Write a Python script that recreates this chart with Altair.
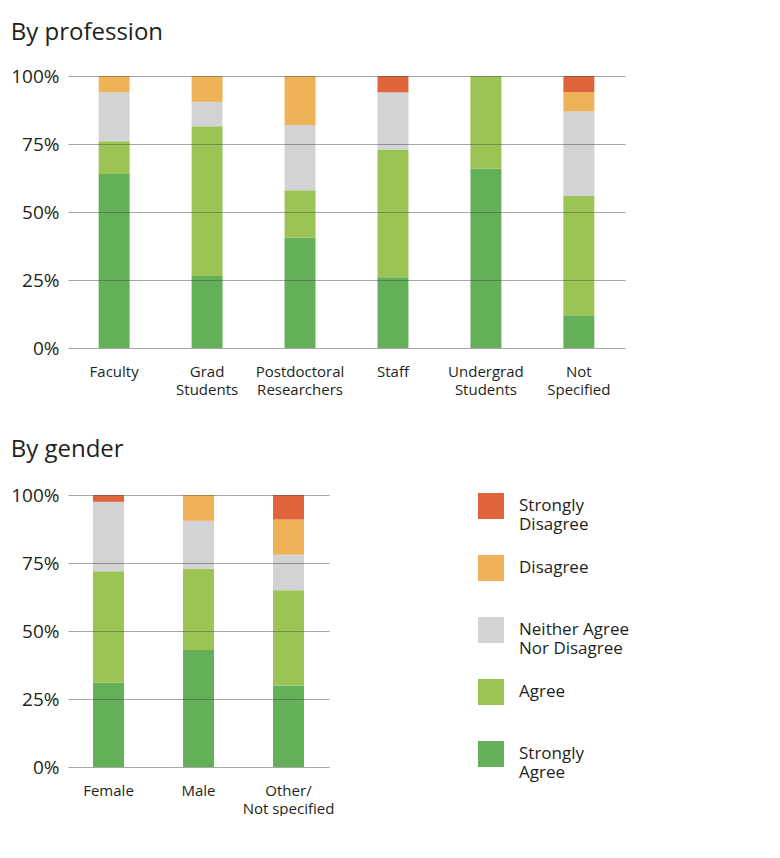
import altair as alt
import pandas as pd

# ---- data (percent of respondents) ----
responses = ["Strongly Agree", "Agree", "Neither Agree Nor Disagree", "Disagree", "Strongly Disagree"]
legend_labels = ["Strongly\nAgree", "Agree", "Neither Agree\nNor Disagree", "Disagree", "Strongly\nDisagree"]
colors = ["#63b058", "#9cc455", "#d1d3d4", "#f0b256", "#e0643a"]

professions = ["Faculty", "Grad\nStudents", "Postdoctoral\nResearchers", "Staff",
               "Undergrad\nStudents", "Not\nSpecified"]
prof_strongly_agree = [64, 26.5, 40.5, 26, 66, 12]
prof_agree = [12, 55, 17.5, 47, 34, 44]
prof_neither = [18, 9, 24, 21, 0, 31]
prof_disagree = [6, 9.5, 18, 0, 0, 7]
prof_strongly_disagree = [0, 0, 0, 6, 0, 6]

genders = ["Female", "Male", "Other/\nNot specified"]
gen_strongly_agree = [31, 43, 30]
gen_agree = [41, 30, 35]
gen_neither = [25.5, 17.5, 13]
gen_disagree = [0, 9.5, 13]
gen_strongly_disagree = [2.5, 0, 9]

y_ticks = [0, 0.25, 0.5, 0.75, 1]

FONT = "Open Sans"
TXT = "#231f20"


def to_long(cats, series):
    rows = []
    for rank, (resp, vals) in enumerate(zip(responses, series)):
        for c, v in zip(cats, vals):
            rows.append({"category": c, "response": resp, "rank": rank, "value": v})
    return pd.DataFrame(rows)


prof_df = to_long(professions, [prof_strongly_agree, prof_agree, prof_neither,
                                prof_disagree, prof_strongly_disagree])
gen_df = to_long(genders, [gen_strongly_agree, gen_agree, gen_neither,
                           gen_disagree, gen_strongly_disagree])

color_scale = alt.Scale(domain=responses, range=colors)


def stacked(df, cats, width, pi, po, title=None):
    ch = alt.Chart(df).mark_bar().encode(
        x=alt.X("category:N", sort=cats, title=None,
                scale=alt.Scale(paddingInner=pi, paddingOuter=po),
                axis=alt.Axis(labelExpr="split(datum.label, '\\n')", labelAngle=0,
                              labelFontSize=15, labelLineHeight=18, labelPadding=16,
                              labelFont=FONT, labelColor=TXT, domain=False, ticks=False,
                              grid=False, labelBaseline="top")),
        y=alt.Y("value:Q", stack="normalize", title=None,
                scale=alt.Scale(domain=[0, 1], nice=False),
                axis=alt.Axis(values=y_ticks, format=".0%", labelFontSize=19,
                              labelFont=FONT, labelColor=TXT, labelPadding=9,
                              domain=False, ticks=False, grid=True,
                              gridColor="#4d4d4d", gridOpacity=0.5, gridWidth=1,
                              zindex=1)),
        color=alt.Color("response:N", scale=color_scale, legend=None),
        order=alt.Order("rank:Q", sort="ascending"),
    )
    props = dict(width=width, height=272)
    if title:
        props["title"] = alt.Title(title, anchor="start", fontSize=24, font=FONT,
                                   fontWeight="normal", color=TXT, offset=22)
    return ch.properties(**props)


top = stacked(prof_df, professions, 557, 0.667, 0.33, "By profession")
bottom = stacked(gen_df, genders, 261, 0.656, 0.278)

legend_df = pd.DataFrame({"response": responses, "label": legend_labels})
leg_y = alt.Y("response:N", sort=list(reversed(responses)),
              scale=alt.Scale(type="point", padding=0.177), axis=None)
leg_sq = alt.Chart(legend_df).mark_square(size=676, opacity=1).encode(
    y=leg_y, x=alt.value(13),
    color=alt.Color("response:N", scale=color_scale, legend=None))
leg_tx = alt.Chart(legend_df).mark_text(align="left", baseline="middle", lineBreak="\n",
                                         fontSize=17, font=FONT, color=TXT,
                                         lineHeight=19).encode(
    y=leg_y, x=alt.value(41), text="label:N")
legend = (leg_sq + leg_tx).properties(width=160, height=270)

lower = alt.hconcat(bottom, legend, spacing=144,
                    title=alt.Title("By gender", anchor="start", fontSize=24, font=FONT,
                                    fontWeight="normal", color=TXT, offset=24))

chart = alt.vconcat(top, lower, spacing=41).properties(
    padding={"top": 13, "left": 2, "right": 0, "bottom": 0}
).configure_view(stroke=None)

chart.save("out.html", embed_options={"renderer": "svg", "actions": False})
